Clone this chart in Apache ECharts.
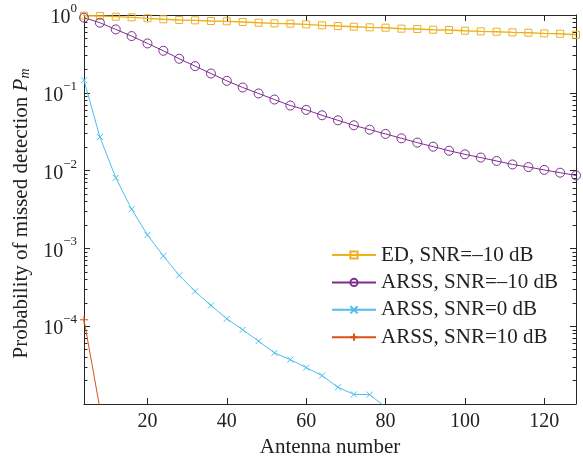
<!DOCTYPE html>
<html>
<head>
<meta charset="utf-8">
<script src="https://cdn.jsdelivr.net/npm/echarts@6/dist/echarts.min.js"></script>
<style>html,body{margin:0;padding:0;background:#fff}#c{width:583px;height:464px}</style>
</head>
<body>
<div id="c"></div>
<script>
// ---- data ----
const antennas = [4,8,12,16,20,24,28,32,36,40,44,48,52,56,60,64,68,72,76,80,84,88,92,96,100,104,108,112,116,120,124,128];
const edSnrM10 = [0.98,0.97,0.952,0.933,0.906,0.88,0.862,0.854,0.837,0.829,0.812,0.796,0.781,0.773,0.758,0.736,0.721,0.707,0.694,0.687,0.667,0.66,0.647,0.641,0.628,0.616,0.61,0.598,0.592,0.58,0.575,0.558];
const arssSnrM10 = [0.924,0.796,0.653,0.536,0.431,0.347,0.274,0.22,0.177,0.1425,0.117,0.098,0.0819,0.0686,0.0603,0.0514,0.0443,0.0382,0.0336,0.0296,0.026,0.0229,0.0203,0.018,0.0162,0.0147,0.0133,0.012,0.0111,0.0102,0.0094,0.00867];
const arssSnr0 = [0.145,0.027,0.0081,0.00319,0.00149,0.0008,0.00045,0.00028,0.000185,0.0001245,0.00009,0.0000643,0.0000454,0.0000372,0.0000294,0.0000232,0.0000164,0.0000133,0.0000132,0.0000091];
const arssSnr10 = [0.000121,0.0000088];
const seriesNames = ['ED, SNR=–10 dB','ARSS, SNR=–10 dB','ARSS, SNR=0 dB','ARSS, SNR=10 dB'];
const xTickValues = [20,40,60,80,100,120];
const yMinorTicks = [];
[0.00001,0.0001,0.001,0.01,0.1].forEach(d => { for (let k = 2; k <= 9; k++) yMinorTicks.push(+(d*k).toPrecision(3)); });

// ---- chart ----
const FONT = 'Liberation Serif';
const AX = '#262626';
const TXT = '#222';
const colors = ['#EDB120','#7E2F8E','#4DBEEE','#D95319'];
const pairs = (ys) => ys.map((y,i) => [antennas[i], y]);

const chart = echarts.init(document.getElementById('c'), null, {renderer:'canvas'});
const supLabel = v => {
  const e = Math.round(Math.log10(v));
  if (e <= -5) return '';
  return '{b|10}{s|' + (e === 0 ? '0' : '\u2212' + (-e)) + '}';
};
const yBase = {
  type:'log', logBase:10, min:0.00001, max:1,
  splitLine:{show:false}, minorTick:{show:false}, minorSplitLine:{show:false}
};
const yMajor = (pos, showLabel) => Object.assign({}, yBase, {
  position: pos,
  axisLine:{show:true, lineStyle:{color:AX, width:1}},
  axisTick:{show:true, inside:true, length:6, lineStyle:{color:AX}},
  axisLabel:{show:showLabel, margin:7, formatter:supLabel, color:TXT,
    rich:{
      b:{fontFamily:FONT, fontSize:20, color:TXT, lineHeight:26, verticalAlign:'bottom'},
      s:{fontFamily:FONT, fontSize:13, color:TXT, lineHeight:14, verticalAlign:'top'}
    }}
});
const yMinor = (pos) => Object.assign({}, yBase, {
  position: pos,
  axisLine:{show:false},
  axisTick:{show:true, inside:true, length:3.5, customValues:yMinorTicks, lineStyle:{color:AX}},
  axisLabel:{show:false}
});
const xAx = (pos, showLabel) => ({
  type:'value', min:4, max:128, position:pos,
  splitLine:{show:false},
  axisLine:{show:true, onZero:false, lineStyle:{color:AX, width:1}},
  axisTick:{show:true, inside:true, length:6, customValues:xTickValues, lineStyle:{color:AX}},
  axisLabel:{show:showLabel, customValues:xTickValues, margin:8, fontFamily:FONT, fontSize:20, color:TXT},
  name: showLabel ? 'Antenna number' : '',
  nameLocation:'middle', nameGap:31,
  nameTextStyle:{fontFamily:FONT, fontSize:21, color:TXT}
});

const yMain = yMajor('left', true);
yMain.name = 'Probability of missed detection {i|P}{m|m}';
yMain.nameLocation = 'middle';
yMain.nameGap = 46;
yMain.nameTextStyle = {fontFamily:FONT, fontSize:21, color:TXT, padding:[0,8,0,0],
  rich:{ i:{fontFamily:FONT, fontSize:21, fontStyle:'italic', color:TXT},
         m:{fontFamily:FONT, fontSize:14, fontStyle:'italic', color:TXT, verticalAlign:'bottom', padding:[8,0,0,0]} }};

const crossPath = 'path://M0,0L10,10M10,0L0,10';
const plusPath = 'path://M5,0L5,10M0,5L10,5';

function mk(i, data, symbol, size, lw) {
  return {
    name: seriesNames[i], type:'line', data: data, xAxisIndex:0, yAxisIndex:0,
    color: colors[i],
    symbol: symbol, symbolSize: size, showSymbol:true, clip:true,
    lineStyle:{color:colors[i], width:lw},
    itemStyle:{color:'rgba(255,255,255,0)', borderColor:colors[i], borderWidth:1},
    emphasis:{disabled:true}, animation:false, z: 3
  };
}

chart.setOption({
  animation:false,
  backgroundColor:'#fff',
  grid:{left:84, right:7, top:15, bottom:60, containLabel:false},
  xAxis:[xAx('bottom', true), xAx('top', false)],
  yAxis:[yMain, yMinor('left'), yMajor('right', false), yMinor('right')],
  legend:{
    show:true, orient:'vertical', left:331, top:244.5, padding:0,
    itemWidth:44, itemHeight:9, itemGap:6.4,
    textStyle:{fontFamily:FONT, fontSize:21, color:TXT, lineHeight:21},
    data: seriesNames
  },
  series:[
    mk(0, pairs(edSnrM10), 'rect', 7, 1.4),
    mk(1, pairs(arssSnrM10), 'circle', 9, 1),
    mk(2, pairs(arssSnr0), crossPath, 6, 1),
    mk(3, pairs(arssSnr10), plusPath, 8, 1)
  ]
});
</script>
</body>
</html>
